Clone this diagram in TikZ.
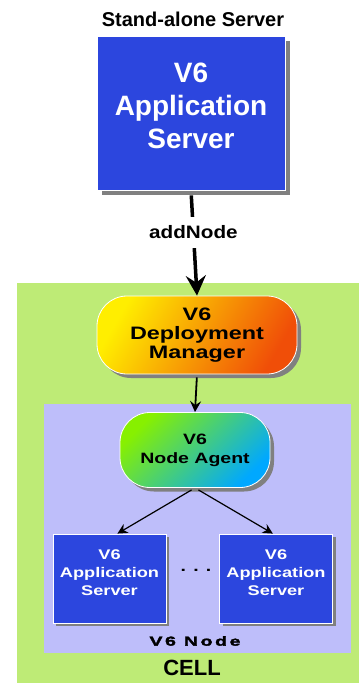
\documentclass[tikz,border=0pt]{standalone}
\usepackage{fontspec}
\setmainfont{Liberation Sans}
\newfontfamily\widesans[FakeStretch=1.3]{Liberation Sans}
\newfontfamily\labelsans[FakeStretch=1.15]{Liberation Sans}
\newfontfamily\tagsans[FakeStretch=1.5,LetterSpace=20,FakeBold=2.5]{Liberation Sans}
\usepackage{tikz}
\usetikzlibrary{arrows.meta,shadows}
\definecolor{srvBlue}{RGB}{44,70,222}
\definecolor{cellG}{RGB}{190,235,118}
\definecolor{nodeL}{RGB}{190,190,250}
\definecolor{dmY}{RGB}{255,238,0}
\definecolor{dmO}{RGB}{252,165,0}
\definecolor{dmR}{RGB}{240,78,8}
\definecolor{naG}{RGB}{135,240,0}
\definecolor{naT}{RGB}{70,205,140}
\definecolor{naB}{RGB}{0,168,255}

\begin{document}
\begin{tikzpicture}[x=1pt, y=-1pt, font=\bfseries,
  gshadow/.style={drop shadow={shadow xshift=#1, shadow yshift=-#1,
                  fill=black!50, opacity=1}},
  srvbox/.style={rectangle, draw=white, line width=0.8pt, fill=srvBlue,
                 text=white, align=center, gshadow=3pt, text depth=11pt,
                 minimum width=113pt, minimum height=89pt,
                 font=\widesans\bfseries\fontsize{14}{18}\selectfont},
  blob/.style={rectangle, rounded corners=30pt, draw=white, line width=0.8pt,
               align=center, gshadow=4pt},
  dmblob/.style={blob, left color=dmY, middle color=dmO, right color=dmR,
                 shading angle=60},
  nablob/.style={blob, left color=naG, middle color=naT, right color=naB,
                 shading angle=45},
  bigflow/.style={->, line width=3.5pt, >={Stealth[length=20pt,width=20pt,inset=7pt]}},
  flow/.style={->, line width=1.8pt, >={Stealth[length=11pt,width=11pt,inset=4pt]}},
  thinflow/.style={->, line width=1.2pt, >={Stealth[length=10pt,width=10pt,inset=3pt]}}]

  \useasboundingbox (0,0) rectangle (359,683);

  % stand-alone server
  \node[font=\bfseries\fontsize{20}{24}\selectfont] (title) at (193,19) {Stand-alone Server};
  \node[rectangle, draw=white, line width=0.8pt, fill=srvBlue, gshadow=5pt,
        text=white, align=center, text depth=14pt,
        font=\bfseries\fontsize{28}{33}\selectfont,
        minimum width=188pt, minimum height=154pt] (v6as) at (191,113)
    {V6\\Application\\Server};

  % cell and node areas
  \node[fill=cellG, inner sep=0pt, anchor=north west,
        minimum width=342pt, minimum height=400pt] (cell) at (17,283) {};
  \node[fill=nodeL, inner sep=0pt, anchor=north west,
        minimum width=307pt, minimum height=249pt] (v6node) at (44,404) {};

  \node[dmblob, minimum width=200pt, minimum height=78pt,
        font=\widesans\bfseries\fontsize{18}{19}\selectfont] (dm) at (197,335)
    {V6\\Deployment\\Manager};
  \node[nablob, minimum width=150pt, minimum height=75pt,
        font=\widesans\bfseries\fontsize{15}{19}\selectfont] (na) at (195,450)
    {V6\\Node Agent};

  \node[srvbox] (as1) at (109.5,578.5) {V6\\Application\\Server};
  \node[srvbox] (as2) at (276,578.5)   {V6\\Application\\Server};
  \node[font=\widesans\bfseries\fontsize{15}{15}\selectfont] (gap) at (196,570) {. . .};

  \node[font=\tagsans\bfseries\fontsize{13}{13}\selectfont] (nodetag) at (195,641) {V6 Node};
  \node[font=\bfseries\fontsize{22}{22}\selectfont] (celltag) at (192,668) {CELL};

  % connectors
  \draw[bigflow, shorten <=5pt] (v6as.south) --
      node[pos=0.4, fill=white, inner ysep=9pt,
           font=\labelsans\bfseries\fontsize{18}{18}\selectfont] (addlbl) {addNode} (dm.north);
  \draw[flow, shorten <=3pt] (dm.south) -- (na.north);
  \draw[thinflow, shorten <=4pt] (na.south) -- (as1.80);
  \draw[thinflow, shorten <=4pt] (na.south) -- (as2.94);
\end{tikzpicture}
\end{document}
